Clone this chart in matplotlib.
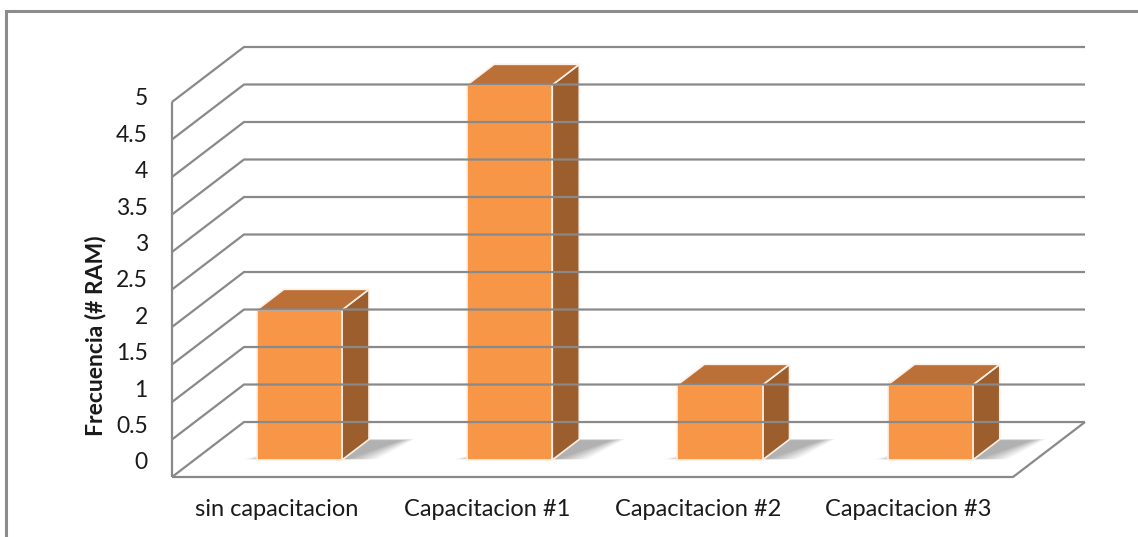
import matplotlib.pyplot as plt
from matplotlib.patches import Polygon
from matplotlib.lines import Line2D
import numpy as np

categorias = ['sin capacitacion', 'Capacitacion #1', 'Capacitacion #2', 'Capacitacion #3']
valores = [2, 5, 1, 1]
ticks = [0, 0.5, 1, 1.5, 2, 2.5, 3, 3.5, 4, 4.5, 5]
ylabel = 'Frecuencia (# RAM)'

plt.rcParams['font.family'] = ['Lato', 'DejaVu Sans']

W, H = 1138, 537
fig = plt.figure(figsize=(W / 100, H / 100), dpi=100)

# oblique "3d" look: back wall is shifted by (DX, DY) in data units
DX, DY = 0.3424, 0.733
n = len(categorias)
ymax = ticks[-1]
ax = fig.add_axes([172 / W, 1 - 477 / H, 913 / W, 430 / H])
ax.set_xlim(0, n + DX)
ax.set_ylim(0, ymax + DY)
ax.axis('off')


def p(x, v, d):
    return (x + d * DX, v + d * DY)


def line(pts, **kw):
    xs, ys = zip(*pts)
    ax.plot(xs, ys, clip_on=False, solid_capstyle='butt', **kw)


gris = '#898989'
for t in ticks:
    line([p(0, t, 0), p(0, t, 1), p(n, t, 1)], color=gris, lw=1.6)
line([p(0, 0, 0), p(0, ymax, 0)], color=gris, lw=1.6)
line([p(0, 0, 0), p(n, 0, 0), p(n, 0, 1)], color=gris, lw=1.6)

# bars
bw = 0.405
d0, d1 = 0.31, 0.685
for i, v in enumerate(valores):
    x0 = i + 0.5 - bw / 2
    x1 = x0 + bw
    # soft shadow on the floor (stacked translucent layers)
    for k in range(14):
        g = 0.011 * k
        sh = [p(x0 - 0.07 + g * 0.6, 0, d0 + 0.01), p(x1 + 0.02 + g, 0, d0 + 0.01),
              p(x1 + 0.16 + g * 0.4, 0, d1 - 0.02 + g * 0.2), p(x0 + 0.15, 0, d1 - 0.02 + g * 0.2)]
        ax.add_patch(Polygon(sh, closed=True, facecolor='black', alpha=0.022,
                             edgecolor='none', clip_on=False))
    front = [p(x0, 0, d0), p(x1, 0, d0), p(x1, v, d0), p(x0, v, d0)]
    side = [p(x1, 0, d0), p(x1, 0, d1), p(x1, v, d1), p(x1, v, d0)]
    top = [p(x0, v, d0), p(x1, v, d0), p(x1, v, d1), p(x0, v, d1)]
    for poly, col in [(side, '#9c5e2d'), (top, '#ba7036'), (front, '#f79646')]:
        ax.add_patch(Polygon(poly, closed=True, facecolor=col, edgecolor='#fdf0e6',
                             lw=1.2, joinstyle='miter', clip_on=False))

# axis labels
for t in ticks:
    ax.text(-0.115, 0.187 + 0.9707 * t, f'{t:g}', ha='right', va='center',
            fontsize=16.5, color='#1a1a1a')
for i, c in enumerate(categorias):
    ax.text(i + 0.5, -0.43, c, ha='center', va='center', fontsize=17, color='#1a1a1a')
ax.text(-0.366, 1.89, ylabel, rotation=90, ha='center', va='center',
        fontsize=16.5, fontweight='bold', color='#1a1a1a')

# chart area border
fig.add_artist(Line2D([6 / W, 6 / W, 1], [0, 1 - 11 / H, 1 - 11 / H], color='#8c8c8c',
                      lw=2.2, solid_joinstyle='miter'))

fig.savefig('out.png', dpi=100)
